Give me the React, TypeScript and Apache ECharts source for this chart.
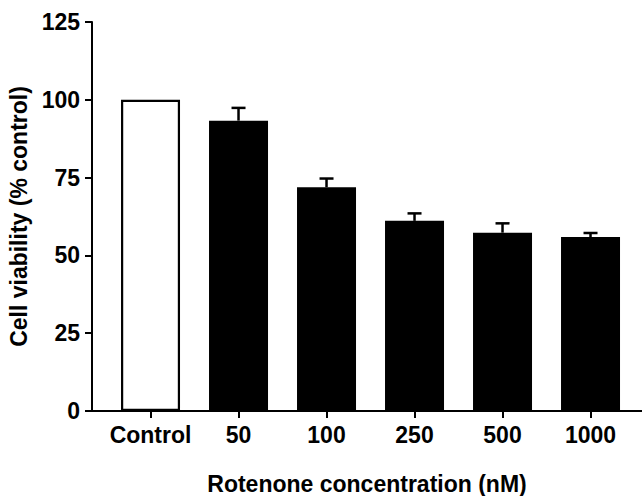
import React, { useEffect, useRef } from "react";
import * as echarts from "echarts";

// Cell viability after rotenone treatment (mean ± SEM, % of control)
const categories = ["Control", "50", "100", "250", "500", "1000"];
const viability = [100, 93.3, 71.9, 61.1, 57.3, 55.9];
const sem = [0, 4.1, 2.8, 2.4, 3.0, 1.3];
const yTicks = { min: 0, max: 125, interval: 25 };

const FONT = "'Liberation Sans', Arial, Helvetica, sans-serif";
const FONT_SIZE = 23;
const positions = categories.map((_, i) => i);

export default function App() {
  const ref = useRef<HTMLDivElement>(null);

  useEffect(() => {
    if (!ref.current) return;
    const chart = echarts.init(ref.current, null, { renderer: "svg" });

    const barData = viability.map((v, i) => ({
      value: [i, v],
      itemStyle:
        i === 0
          ? { color: "#ffffff", borderColor: "#000000", borderWidth: 2.2 }
          : { color: "#000000" },
    }));
    // only groups with a non-zero SEM get an error bar
    const errData = viability
      .map((v, i) => [i, v, sem[i]])
      .filter((d) => d[2] > 0);

    const textStyle = { color: "#000", fontFamily: FONT, fontWeight: "bold", fontSize: FONT_SIZE };

    chart.setOption({
      animation: false,
      backgroundColor: "#ffffff",
      grid: {
        left: 92,
        right: 0,
        top: 22,
        bottom: 85,
        containLabel: false,
        outerBoundsMode: "none",
      },
      xAxis: {
        type: "value",
        min: -0.665,
        max: 5.585,
        splitLine: { show: false },
        axisLine: { show: true, onZero: false, lineStyle: { color: "#000", width: 2 } },
        axisTick: {
          show: true,
          customValues: positions,
          length: 7,
          lineStyle: { color: "#000", width: 2 },
        },
        axisLabel: {
          customValues: positions,
          formatter: (v: number) => categories[Math.round(v)] ?? "",
          ...textStyle,
          margin: 12,
        },
        name: "Rotenone concentration (nM)",
        nameLocation: "middle",
        nameGap: 61,
        nameTextStyle: textStyle,
      },
      yAxis: {
        type: "value",
        min: yTicks.min,
        max: yTicks.max,
        interval: yTicks.interval,
        splitLine: { show: false },
        axisLine: { show: true, onZero: false, lineStyle: { color: "#000", width: 2 } },
        axisTick: { show: true, length: 7, lineStyle: { color: "#000", width: 2 } },
        axisLabel: { ...textStyle, margin: 12 },
        name: "Cell viability (% control)",
        nameLocation: "middle",
        nameGap: 54,
        nameTextStyle: textStyle,
      },
      series: [
        {
          type: "bar",
          data: barData,
          barWidth: 59,
          z: 2,
        },
        {
          type: "custom",
          data: errData,
          z: 3,
          renderItem: (params: any, api: any) => {
            const x = api.value(0);
            const v = api.value(1);
            const e = api.value(2);
            const base = api.coord([x, v]);
            const top = api.coord([x, v + e]);
            const half = 7;
            const style = { stroke: "#000", lineWidth: 2.5 };
            return {
              type: "group",
              children: [
                { type: "line", shape: { x1: base[0], y1: base[1], x2: top[0], y2: top[1] }, style },
                { type: "line", shape: { x1: top[0] - half, y1: top[1], x2: top[0] + half, y2: top[1] }, style },
              ],
            };
          },
        },
      ],
    });

    return () => chart.dispose();
  }, []);

  return (
    <div
      ref={ref}
      style={{ position: "fixed", left: 0, top: 0, width: 642, height: 496, background: "#fff" }}
    />
  );
}
